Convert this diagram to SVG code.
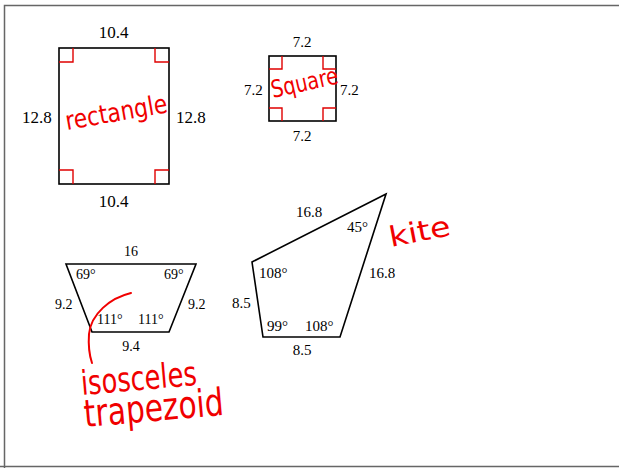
<svg xmlns="http://www.w3.org/2000/svg" width="619" height="468" viewBox="0 0 619 468">
<style>
.shape{fill:none;stroke:#000;stroke-width:1.6;stroke-linejoin:miter}
.mark{fill:none;stroke:#e00000;stroke-width:1.4}
.lbl{font-family:"Liberation Serif","Times New Roman",serif;fill:#000}
.hand{font-family:"DejaVu Sans","Liberation Sans",sans-serif;fill:#f00000}
.frame{stroke:#666;stroke-width:1.5;fill:none}
</style>
<rect width="619" height="468" fill="#fff"/>
<path class="frame" d="M4.5,468 V5.5 H619 M0,466.5 H619"/>

<g id="rectangle">
<rect class="shape" x="59" y="48" width="110" height="136" stroke-width="2"/>
<path class="mark" d="M59,62 H73 V48 M155,48 V62 H169 M59,170 H73 V184 M155,184 V170 H169"/>
<g class="lbl" font-size="17">
<text x="113.5" y="38" text-anchor="middle">10.4</text>
<text x="113.5" y="207" text-anchor="middle">10.4</text>
<text x="22" y="123">12.8</text>
<text x="176" y="123">12.8</text>
</g>
<text class="hand" x="67" y="130" font-size="26" textLength="103" lengthAdjust="spacingAndGlyphs" transform="rotate(-10 67 130)">rectangle</text>
</g>

<g id="square">
<rect class="shape" x="269" y="56" width="67" height="65"/>
<path class="mark" d="M269,69 H282 V56 M323,56 V69 H336 M269,108 H282 V121 M323,121 V108 H336"/>
<g class="lbl" font-size="15">
<text x="302" y="47" text-anchor="middle">7.2</text>
<text x="302" y="141" text-anchor="middle">7.2</text>
<text x="244" y="95">7.2</text>
<text x="340" y="95">7.2</text>
</g>
<text class="hand" x="273" y="98" font-size="24" textLength="68" lengthAdjust="spacingAndGlyphs" transform="rotate(-12.6 273 98)">Square</text>
</g>

<g id="trapezoid">
<polygon class="shape" points="66,264 196,264 169,332 92,332"/>
<g class="lbl" font-size="14">
<text x="131" y="256" text-anchor="middle">16</text>
<text x="76" y="279">69°</text>
<text x="164" y="279">69°</text>
<text x="55" y="309">9.2</text>
<text x="188" y="309">9.2</text>
<text x="97" y="324">111°</text>
<text x="138" y="324">111°</text>
<text x="131" y="351" text-anchor="middle">9.4</text>
</g>
<text class="hand" x="82" y="395" font-size="34" textLength="116" lengthAdjust="spacingAndGlyphs" transform="rotate(-5 82 395)">isosceles</text>
<text class="hand" x="85" y="427" font-size="38" textLength="140" lengthAdjust="spacingAndGlyphs" transform="rotate(-5 85 427)">trapezoid</text>
</g>

<g id="kite">
<polygon class="shape" points="386,194 252,262 263,337 340,337"/>
<g class="lbl" font-size="15">
<text x="296" y="217">16.8</text>
<text x="347" y="232">45°</text>
<text x="369" y="278">16.8</text>
<text x="259" y="278">108°</text>
<text x="232" y="308">8.5</text>
<text x="267" y="331">99°</text>
<text x="305" y="331">108°</text>
<text x="302" y="355" text-anchor="middle">8.5</text>
</g>
<text class="hand" x="391" y="247" font-size="28" textLength="62" lengthAdjust="spacingAndGlyphs" transform="rotate(-11 391 247)">kite</text>
</g>

<g id="connectors">
<path d="M131,293 C110,298 91,314 89,334 C88,348 90,357 92,363" fill="none" stroke="#f00000" stroke-width="2" stroke-linecap="round"/>
</g>
</svg>
